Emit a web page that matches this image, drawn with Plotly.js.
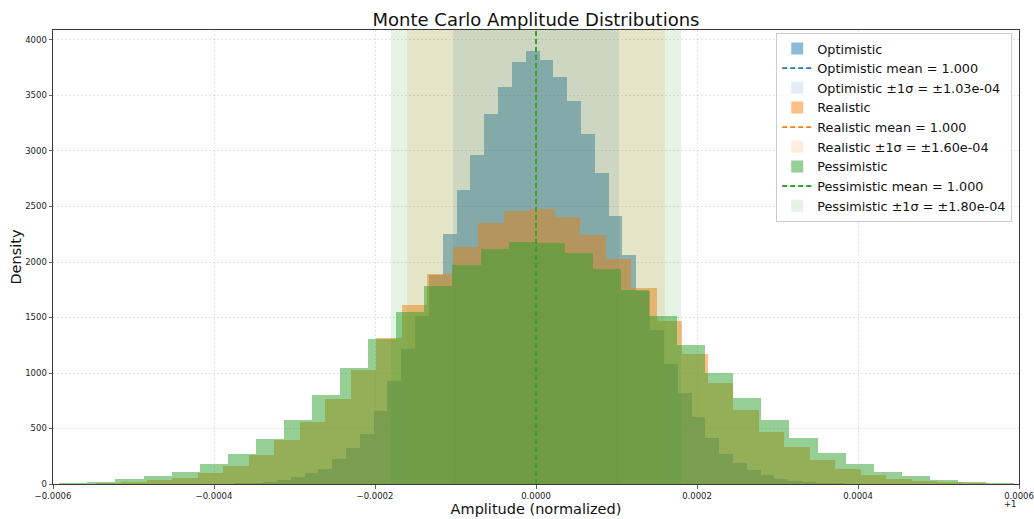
<!DOCTYPE html>
<html>
<head>
<meta charset="utf-8">
<script src="https://cdn.plot.ly/plotly-3.0.1.min.js"></script>
<style>
  html, body { margin: 0; padding: 0; background: #ffffff; }
  #chart { width: 1034px; height: 519px; }
</style>
</head>
<body>
<div id="chart"></div>
<script>
// ---- Data (amplitude offsets relative to 1; counts) ----
const scenarios = ["Optimistic", "Realistic", "Pessimistic"];
const sigmas = [1.03e-4, 1.60e-4, 1.80e-4];
const means = [0.0, 0.0, 0.0];            // mean = 1.000 (offset from +1)
const meanLabels = ["1.000", "1.000", "1.000"];

// histogram bin layout (first left edge, bin width) per scenario
const optimisticBinStart = -4.0769e-4, optimisticBinWidth = 1.7169e-5;
const realisticBinStart = -6.1000e-4, realisticBinWidth = 3.1670e-5;
const pessimisticBinStart = -6.2706e-4, pessimisticBinWidth = 3.4885e-5;

const optimisticCounts = [2, 4, 7, 11, 21, 36, 61, 99, 137, 225, 328, 452, 658, 929, 1215, 1510, 1880,
  2252, 2646, 2965, 3337, 3578, 3804, 3897, 3822, 3671, 3446, 3157, 2802, 2417, 2060, 1740, 1389,
  1080, 824, 607, 412, 273, 187, 126, 78, 48, 30, 18, 11, 6, 3, 2];
const realisticCounts = [1, 4, 9, 20, 33, 57, 102, 165, 262, 397, 558, 764, 1030, 1312, 1614, 1891,
  2135, 2348, 2456, 2478, 2402, 2240, 2027, 1762, 1466, 1170, 914, 667, 470, 331, 214, 135, 81,
  45, 27, 15, 9, 4, 2];
const pessimisticCounts = [4, 12, 21, 42, 69, 110, 183, 271, 402, 576, 800, 1045, 1305, 1547, 1786,
  1975, 2113, 2180, 2174, 2077, 1939, 1744, 1517, 1252, 1004, 773, 575, 415, 282, 183, 111, 69,
  33, 21, 9, 3];

const xTickVals = [-0.0006, -0.0004, -0.0002, 0, 0.0002, 0.0004, 0.0006];
const xTickText = ["\u22120.0006", "\u22120.0004", "\u22120.0002", "0.0000", "0.0002", "0.0004", "0.0006"];
const yTickVals = [0, 500, 1000, 1500, 2000, 2500, 3000, 3500, 4000];

// ---- Styling ----
const baseColors = [[31, 119, 180], [255, 127, 14], [44, 160, 44]];
const HIST_ALPHA = 0.5, SPAN_ALPHA = 0.13;
const Y_MAX = 4090;
const X_RANGE = [-0.0006, 0.0006];
const FONT = "DejaVu Sans, Liberation Sans, sans-serif";

function rgba(c, a) { return `rgba(${c[0]},${c[1]},${c[2]},${a})`; }
function centers(start, width, n) {
  const out = [];
  for (let i = 0; i < n; i++) out.push(start + (i + 0.5) * width);
  return out;
}

const bins = [
  [optimisticBinStart, optimisticBinWidth, optimisticCounts],
  [realisticBinStart, realisticBinWidth, realisticCounts],
  [pessimisticBinStart, pessimisticBinWidth, pessimisticCounts]
];

const traces = [];
scenarios.forEach((name, i) => {
  const [start, width, counts] = bins[i];
  const c = baseColors[i];
  traces.push({
    type: "bar", name: name,
    x: centers(start, width, counts.length), y: counts, width: width,
    marker: { color: rgba(c, HIST_ALPHA), line: { width: 0 } },
    hoverinfo: "skip"
  });
  traces.push({
    type: "scatter", mode: "lines",
    name: `${name} mean = ${meanLabels[i]}`,
    x: [means[i], means[i]], y: [0, Y_MAX],
    line: { color: rgba(c, 1), width: 1.8, dash: "5px,3px" },
    hoverinfo: "skip"
  });
  traces.push({
    type: "bar",
    name: `${name} \u00b11\u03c3 = \u00b1${sigmas[i].toExponential(2).replace("e-", "e-0")}`,
    x: [means[i]], y: [Y_MAX], base: 0, width: 2 * sigmas[i],
    marker: { color: rgba(c, SPAN_ALPHA), line: { width: 0 } },
    hoverinfo: "skip"
  });
});

const axisCommon = {
  showline: true, mirror: true, linecolor: "#3a3a3a", linewidth: 1,
  ticks: "outside", ticklen: 3.5, tickwidth: 0.8, tickcolor: "#3a3a3a",
  showgrid: true, gridcolor: "rgba(0,0,0,0.14)", griddash: "2px,2px", gridwidth: 0.8,
  zeroline: false,
  tickfont: { family: FONT, size: 8.5, color: "#222" }
};

const layout = {
  width: 1034, height: 519,
  margin: { l: 53, r: 15, t: 30, b: 35, pad: 0 },
  paper_bgcolor: "#ffffff", plot_bgcolor: "#ffffff",
  barmode: "overlay", bargap: 0,
  font: { family: FONT, color: "#222" },
  title: {
    text: "Monte Carlo Amplitude Distributions",
    font: { family: FONT, size: 18, color: "#111" },
    x: 0.5, xref: "paper", xanchor: "center",
    y: 1 - 19.5 / 519, yref: "container", yanchor: "middle"
  },
  xaxis: Object.assign({}, axisCommon, {
    range: X_RANGE, tickmode: "array", tickvals: xTickVals, ticktext: xTickText,
    title: { text: "Amplitude (normalized)", font: { family: FONT, size: 14.5, color: "#111" }, standoff: 0 }
  }),
  yaxis: Object.assign({}, axisCommon, {
    range: [0, Y_MAX], tickmode: "array", tickvals: yTickVals,
    title: { text: "Density", font: { family: FONT, size: 14.5, color: "#111" }, standoff: 0 }
  }),
  legend: {
    x: 0.993, xanchor: "right", y: 0.994, yanchor: "top",
    bgcolor: "rgba(255,255,255,0.8)", bordercolor: "#cccccc", borderwidth: 1,
    font: { family: FONT, size: 12.8, color: "#111" },
    traceorder: "normal"
  },
  annotations: [{
    text: "+1", xref: "paper", yref: "paper", x: 1, y: 0, xanchor: "right", yanchor: "top",
    yshift: -13, showarrow: false, font: { family: FONT, size: 8.5, color: "#222" }
  }],
  showlegend: true
};

Plotly.newPlot("chart", traces, layout, { staticPlot: true, displayModeBar: false });
</script>
</body>
</html>
